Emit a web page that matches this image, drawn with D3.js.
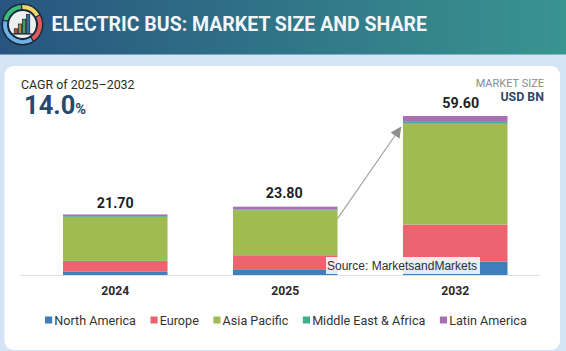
<!DOCTYPE html>
<html>
<head>
<meta charset="utf-8">
<script src="https://cdn.jsdelivr.net/npm/d3@7"></script>
<style>
html,body{margin:0;padding:0;background:#d5e4f4;overflow:hidden}
svg{display:block;font-family:Roboto,sans-serif}
</style>
</head>
<body>
<svg id="c" width="566" height="351"></svg>
<script>
const categories = ["2024", "2025", "2032"];
const totals = ["21.70", "23.80", "59.60"];
const seriesNames = ["North America", "Europe", "Asia Pacific", "Middle East & Africa", "Latin America"];
const northAmerica = [1.2, 1.9, 5.0];
const europe = [4.1, 5.5, 13.9];
const asiaPacific = [16.5, 16.9, 37.8];
const middleEastAfrica = [0.3, 0.3, 0.7];
const latinAmerica = [0.6, 1.0, 2.2];
const seriesColors = ["#3f7dbd", "#ee636f", "#9fbb52", "#3fae8c", "#a86fb3"];
const ringColors = ["#f1d565", "#e45a5a", "#6fb2e8", "#3dba7d"];
const iconBars = [1, 2, 3, 4];

const seriesValues = [northAmerica, europe, asiaPacific, middleEastAfrica, latinAmerica];
const rows = categories.map((c, i) => {
  const r = {year: c};
  seriesNames.forEach((s, k) => r[s] = seriesValues[k][i]);
  return r;
});
const svg = d3.select("#c");

// header
const defs = svg.append("defs");
const grad = defs.append("linearGradient").attr("id", "hd");
grad.append("stop").attr("offset", "0").attr("stop-color", "#28557f");
grad.append("stop").attr("offset", "1").attr("stop-color", "#399490");
svg.append("rect").attr("width", 566).attr("height", 54.5).attr("fill", "url(#hd)");
svg.append("text").attr("x", 51.5).attr("y", 30.5).attr("fill", "#f2f6f8")
  .attr("font-size", 19.5).attr("font-weight", 700).text("ELECTRIC BUS: MARKET SIZE AND SHARE");

// icon
const icon = svg.append("g").attr("transform", "translate(22.5,24.5)");
icon.append("circle").attr("r", 21).attr("fill", "#17293c");
const arc = d3.arc().innerRadius(15.5).outerRadius(19.5);
const pie = d3.pie().value(d => d.v).sort(null).padAngle(0.05).startAngle(-0.05);
const ringData = [{c: ringColors[0], v: 1.1}, {c: ringColors[1], v: 1.5}, {c: ringColors[2], v: 2.4}, {c: ringColors[3], v: 1.3}];
icon.selectAll("path.r").data(pie(ringData)).join("path").attr("class","r").attr("d", arc).attr("fill", d => d.data.c);
icon.append("circle").attr("r", 13.5).attr("fill", "#eef0f0");
const iconX = d3.scaleBand().domain(iconBars).range([-9, 8]).padding(0.2);
const iconY = d3.scaleLinear().domain([0, 4]).range([9, -10]);
icon.selectAll("rect").data(iconBars).join("rect")
  .attr("x", d => iconX(d)).attr("width", iconX.bandwidth())
  .attr("y", d => iconY(d)).attr("height", d => iconY(0) - iconY(d))
  .attr("fill", (d, i) => ["#c9484e", "#a98d3c", "#4d9a55", "#2f6f9e"][i])
  .attr("stroke", "#1d2b38").attr("stroke-width", 0.8);
icon.append("line").attr("x1", -11).attr("x2", 10).attr("y1", 9.5).attr("y2", 9.5).attr("stroke", "#1d2b38").attr("stroke-width", 1.2);

// card
svg.append("rect").attr("x", 4.5).attr("y", 66).attr("width", 555.5).attr("height", 284)
  .attr("rx", 9).attr("fill", "#ffffff");

// texts
svg.append("text").attr("x", 21).attr("y", 89).attr("font-size", 12.4).attr("fill", "#2b2b2b").text("CAGR of 2025\u20132032");
const big = svg.append("text").attr("x", 24).attr("y", 113.5).attr("fill", "#27496b").attr("font-weight", 700);
big.append("tspan").attr("font-size", 25.5).text("14.0");
big.append("tspan").attr("font-size", 14.5).text("%");
svg.append("text").attr("x", 544).attr("y", 87).attr("text-anchor", "end").attr("font-size", 11).attr("fill", "#8b8b8b").text("MARKET SIZE");
svg.append("text").attr("x", 544).attr("y", 101).attr("text-anchor", "end").attr("font-size", 12.4).attr("font-weight", 700).attr("fill", "#2f4a68").text("USD BN");

// scales
const x = d3.scaleBand().domain(categories).range([63, 507.5]).paddingInner(0.385).paddingOuter(0);
const y = d3.scaleLinear().domain([0, 59.6]).range([275, 116]);
const color = d3.scaleOrdinal(seriesNames, seriesColors);
const layers = d3.stack().keys(seriesNames)(rows);

// baseline + axis
const axis = svg.append("g").attr("transform", "translate(0,275)")
  .call(d3.axisBottom(x).tickSize(0).tickPadding(11));
axis.select(".domain").remove();
svg.append("line").attr("x1", 20).attr("x2", 540).attr("y1", 275.5).attr("y2", 275.5).attr("stroke", "#d9e2ea");
axis.selectAll("text").attr("font-family", "Roboto,sans-serif").attr("font-size", 12.2).attr("font-weight", 700).attr("fill", "#2c2c2c");

// bars
svg.append("g").selectAll("g").data(layers).join("g").attr("fill", d => color(d.key))
  .selectAll("rect").data(d => d).join("rect")
  .attr("x", d => x(d.data.year)).attr("width", x.bandwidth())
  .attr("y", d => y(d[1])).attr("height", d => y(d[0]) - y(d[1]));

// totals
const lastLayer = layers[layers.length - 1];
const labelDx = [0, -1, 5.5], labelDy = [6.5, 9, 8.5];
svg.append("g").selectAll("text").data(categories).join("text")
  .attr("x", (d, i) => x(d) + x.bandwidth() / 2 + labelDx[i])
  .attr("y", (d, i) => y(lastLayer[i][1]) - labelDy[i])
  .attr("text-anchor", "middle").attr("font-size", 14.3).attr("font-weight", 700).attr("fill", "#1f1f1f")
  .text((d, i) => totals[i]);

// growth arrow, from the top right of the 2025 bar to the 2032 bar
const ax1 = x("2025") + x.bandwidth(), ay1 = y(lastLayer[1][1]) + 12;
const ax2 = x("2032") - 2, ay2 = y(lastLayer[2][1]) + 11;
defs.append("marker").attr("id", "ah").attr("viewBox", "0 0 10 10").attr("refX", 9.5).attr("refY", 5)
  .attr("markerWidth", 11).attr("markerHeight", 11).attr("markerUnits", "userSpaceOnUse").attr("orient", "auto")
  .append("path").attr("d", "M0,0L10,5L0,10Z").attr("fill", "#8e8e8e");
svg.append("line").attr("x1", ax1).attr("y1", ay1).attr("x2", ax2).attr("y2", ay2)
  .attr("stroke", "#a3a3a3").attr("stroke-width", 1.2).attr("marker-end", "url(#ah)");

// source
svg.append("rect").attr("x", 326).attr("y", 257).attr("width", 154).attr("height", 17).attr("fill", "#ffffff").attr("fill-opacity", 0.85);
svg.append("text").attr("x", 327).attr("y", 269.5).attr("font-family", "Liberation Sans, Arial, sans-serif").attr("font-size", 12).attr("fill", "#2f2f3a").text("Source: MarketsandMarkets");

// legend
let lx = 45;
const leg = svg.append("g");
seriesNames.forEach(name => {
  leg.append("rect").attr("x", lx).attr("y", 316.5).attr("width", 7.2).attr("height", 7).attr("fill", color(name));
  const t = leg.append("text").attr("x", lx + 9.3).attr("y", 324.5).attr("font-size", 12.6).attr("fill", "#333").text(name);
  lx += 9.3 + t.node().getComputedTextLength() + 14.5;
});
</script>
</body>
</html>
